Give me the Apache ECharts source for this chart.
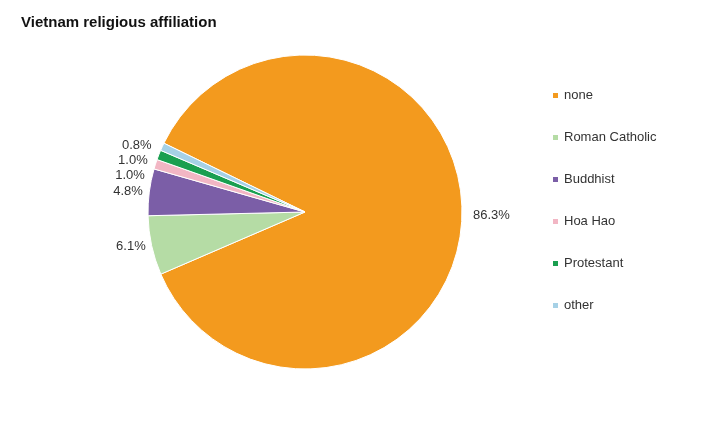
<!DOCTYPE html>
<html><head><meta charset="utf-8">
<script src="https://cdn.jsdelivr.net/npm/echarts@6/dist/echarts.min.js"></script>
<style>html,body{margin:0;background:#fff}#c{width:720px;height:431px}</style>
</head><body><div id="c"></div>
<script>
const categories = ['none','Roman Catholic','Buddhist','Hoa Hao','Protestant','other'];
const values = [86.3,6.1,4.8,1.0,1.0,0.8];
const colors = ['#F39A1E','#B5DCA5','#7B5EA7','#F2B6C4','#1A9F50','#A6D1E6'];
const chart = echarts.init(document.getElementById('c'));
chart.setOption({
  animation:false,
  title:{text:'Vietnam religious affiliation',left:16,top:10,textStyle:{fontFamily:'Liberation Sans',fontSize:15,fontWeight:'bold',color:'#111'}},
  legend:{orient:'vertical',left:546,top:84,itemGap:29,itemWidth:7,itemHeight:7,icon:'rect',
    textStyle:{fontFamily:'Liberation Sans',fontSize:13,color:'#333'},data:categories},
  series:[{type:'pie',center:[305,212],radius:157,startAngle:154,clockwise:true,
    avoidLabelOverlap:true,
    itemStyle:{borderColor:'#fff',borderWidth:1},
    label:{formatter:p=>p.value.toFixed(1)+'%',fontFamily:'Liberation Sans',fontSize:13,color:'#333'},
    labelLine:{show:false,length:4,length2:2},
    data:categories.map((c,i)=>({name:c,value:values[i],itemStyle:{color:colors[i]}}))
  }]
});
</script></body></html>
